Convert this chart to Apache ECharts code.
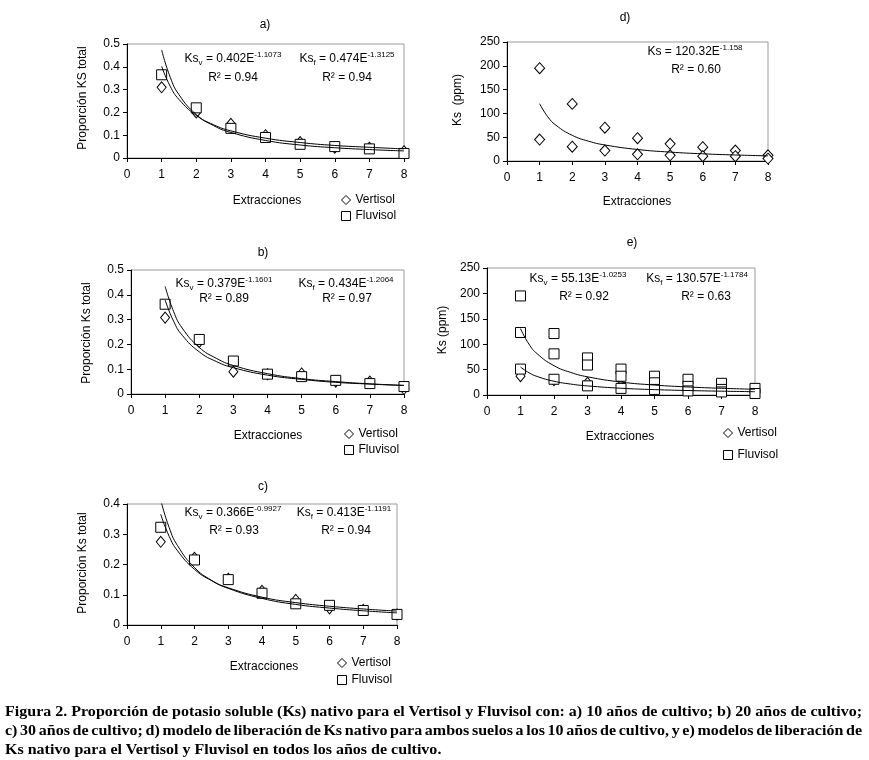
<!DOCTYPE html>
<html><head><meta charset="utf-8">
<script src="https://cdn.jsdelivr.net/npm/echarts@6/dist/echarts.min.js"></script>
<style>
html,body{margin:0;padding:0;background:#fff;}
#chart{position:absolute;left:0;top:0;width:869px;height:760px;}
#caption{position:absolute;left:5px;top:702px;width:857px;font-family:"Liberation Serif","DejaVu Serif",serif;font-weight:bold;font-size:15px;line-height:19px;color:#000;}
.ln{white-space:nowrap;transform-origin:0 0;display:block;width:max-content;}
</style></head><body>
<div id="chart"></div>
<div id="caption">
<span class="ln" id="l1">Figura 2. Proporción de potasio soluble (Ks) nativo para el Vertisol y Fluvisol con: a) 10 años de cultivo; b) 20 años de cultivo;</span>
<span class="ln" id="l2">c) 30 años de cultivo; d) modelo de liberación de Ks nativo para ambos suelos a los 10 años de cultivo, y e) modelos de liberación de</span>
<span class="ln" id="l3">Ks nativo para el Vertisol y Fluvisol en todos los años de cultivo.</span>
</div>
<script>
// ---------- data ----------
const extracciones = [1, 2, 3, 4, 5, 6, 7, 8];
const xTickLabels = ['0', '1', '2', '3', '4', '5', '6', '7', '8'];

// a) 10 years
const aVertisol = [0.31, 0.20, 0.15, 0.10, 0.07, 0.045, 0.045, 0.03];
const aFluvisol = [0.365, 0.22, 0.13, 0.09, 0.06, 0.05, 0.04, 0.02];
// b) 20 years
const bVertisol = [0.308, 0.21, 0.09, 0.08, 0.083, 0.05, 0.05, 0.02];
const bFluvisol = [0.362, 0.22, 0.133, 0.08, 0.07, 0.055, 0.042, 0.03];
// c) 30 years
const cVertisol = [0.275, 0.222, 0.153, 0.113, 0.083, 0.055, 0.05, 0.035];
const cFluvisol = [0.323, 0.215, 0.15, 0.105, 0.07, 0.065, 0.048, 0.035];

// trend curves, read at these x positions
const trendX = [1, 1.25, 1.5, 2, 2.5, 3, 4, 5, 6, 7, 8];
const aTrendV = [0.402, 0.314, 0.257, 0.187, 0.146, 0.119, 0.087, 0.068, 0.055, 0.047, 0.040];
const aTrendF = [0.474, 0.354, 0.278, 0.191, 0.142, 0.112, 0.077, 0.057, 0.045, 0.037, 0.031];
const bTrendV = [0.379, 0.293, 0.237, 0.170, 0.131, 0.106, 0.076, 0.059, 0.047, 0.040, 0.034];
const bTrendF = [0.434, 0.332, 0.266, 0.188, 0.144, 0.115, 0.082, 0.062, 0.050, 0.041, 0.035];
const cTrendV = [0.366, 0.293, 0.245, 0.184, 0.147, 0.123, 0.092, 0.074, 0.062, 0.053, 0.046];
const cTrendF = [0.413, 0.322, 0.262, 0.190, 0.148, 0.121, 0.088, 0.068, 0.056, 0.047, 0.040];

// d) both soils, 10 years (ppm)
const dX = [1, 1, 2, 2, 3, 3, 4, 4, 5, 5, 6, 6, 7, 7, 8, 8];
const dKs = [195, 45, 120, 30, 70, 22, 48, 14, 36, 12, 29, 10, 22, 10, 12, 5];
const dTrend = [120.3, 92.9, 75.2, 53.9, 41.6, 33.7, 24.2, 18.7, 15.1, 12.6, 10.8];

// e) all years (ppm)
const eVertX = [1, 2, 3, 4, 5, 6, 7, 8];
const eVertKs = [37, 29, 24, 19, 14, 10, 9, 5];
const eFluvX = [1, 1, 1, 2, 2, 2, 3, 3, 3, 4, 4, 4, 5, 5, 5, 6, 6, 6, 7, 7, 7, 8, 8];
const eFluvKs = [195, 123, 51, 121, 81, 31, 73, 59, 18, 51, 37, 13, 37, 24, 11, 31, 17, 8, 23, 11, 6, 13, 3];
const eTrendV = [55.1, 43.9, 36.4, 27.1, 21.5, 17.9, 13.3, 10.6, 8.8, 7.5, 6.5];
const eTrendF = [130.6, 100.4, 81.0, 57.7, 44.4, 35.8, 25.5, 19.6, 15.8, 13.2, 11.3];

// ---------- helpers ----------
const FONT = '"Liberation Sans", Arial, sans-serif';
const pairs = (xs, ys) => xs.map((x, i) => [x, ys[i]]);

const grids = [
  {left: 127, top: 44, width: 277, height: 114},   // a
  {left: 131, top: 270, width: 273, height: 124},  // b
  {left: 127, top: 504, width: 270, height: 121},  // c
  {left: 507, top: 42, width: 261, height: 119},   // d
  {left: 487, top: 268, width: 268, height: 127}   // e
].map(g => Object.assign({show: true, borderColor: '#9a9a9a', borderWidth: 1, backgroundColor: 'transparent', containLabel: false}, g));

const yMax = [0.5, 0.5, 0.4, 250, 250];
const yInt = [0.1, 0.1, 0.1, 50, 50];

const axisCommon = {
  axisLine: {show: true, onZero: false, lineStyle: {color: '#000', width: 1}},
  axisTick: {show: true, inside: false, length: 4, lineStyle: {color: '#000', width: 1}},
  splitLine: {show: false},
  axisLabel: {color: '#000', fontSize: 12, fontFamily: FONT}
};

const xAxis = grids.map((g, i) => Object.assign({}, axisCommon, {
  type: 'value', gridIndex: i, min: 0, max: 8, interval: 1,
  axisLabel: Object.assign({}, axisCommon.axisLabel, {margin: 11, formatter: v => xTickLabels[v]})
}));
const yAxis = grids.map((g, i) => Object.assign({}, axisCommon, {
  type: 'value', gridIndex: i, min: 0, max: yMax[i], interval: yInt[i],
  axisLabel: Object.assign({}, axisCommon.axisLabel, {margin: 7})
}));

const markerStyle = {color: '#fff', borderColor: '#000', borderWidth: 1, opacity: 1};
function scatter(name, idx, data, symbol, size) {
  return {type: 'scatter', name, xAxisIndex: idx, yAxisIndex: idx, data, symbol, symbolSize: size,
    itemStyle: markerStyle, z: 2, emphasis: {disabled: true}, silent: true};
}
function trend(idx, ys) {
  return {type: 'line', name: 'trend', xAxisIndex: idx, yAxisIndex: idx, data: pairs(trendX, ys),
    showSymbol: false, symbol: 'none', smooth: true, clip: true,
    lineStyle: {color: '#000', width: 1}, z: 3, silent: true, emphasis: {disabled: true}};
}

const DIA = [9, 11], SQ = 10;
const series = [
  scatter('Vertisol', 0, pairs(extracciones, aVertisol), 'diamond', DIA),
  scatter('Fluvisol', 0, pairs(extracciones, aFluvisol), 'rect', SQ),
  trend(0, aTrendV), trend(0, aTrendF),
  scatter('Vertisol', 1, pairs(extracciones, bVertisol), 'diamond', DIA),
  scatter('Fluvisol', 1, pairs(extracciones, bFluvisol), 'rect', SQ),
  trend(1, bTrendV), trend(1, bTrendF),
  scatter('Vertisol', 2, pairs(extracciones, cVertisol), 'diamond', DIA),
  scatter('Fluvisol', 2, pairs(extracciones, cFluvisol), 'rect', SQ),
  trend(2, cTrendV), trend(2, cTrendF),
  scatter('Ks', 3, pairs(dX, dKs), 'diamond', [10, 11]),
  trend(3, dTrend),
  scatter('Vertisol', 4, pairs(eVertX, eVertKs), 'diamond', DIA),
  scatter('Fluvisol', 4, pairs(eFluvX, eFluvKs), 'rect', SQ),
  trend(4, eTrendV), trend(4, eTrendF)
];

function legend(left, top, gap) {
  return {orient: 'vertical', left, top, itemGap: gap, itemWidth: 9, itemHeight: 9, selectedMode: false,
    textStyle: {fontSize: 12, color: '#000', fontFamily: FONT}, padding: 0,
    data: [
      {name: 'Vertisol', icon: 'diamond', itemStyle: {color: '#fff', borderColor: '#000', borderWidth: 1}},
      {name: 'Fluvisol', icon: 'rect', itemStyle: {color: '#fff', borderColor: '#000', borderWidth: 1}}
    ]};
}

const rich = {
  b: {fontSize: 12, lineHeight: 16, fontFamily: FONT, fill: '#000', color: '#000'},
  sub: {fontSize: 8, lineHeight: 8, fontFamily: FONT, verticalAlign: 'bottom', fill: '#000', color: '#000'},
  sup: {fontSize: 8, lineHeight: 8, fontFamily: FONT, verticalAlign: 'top', fill: '#000', color: '#000'}
};
function txt(x, y, text, opts) {
  return {type: 'text', x, y, rotation: (opts && opts.rot) || 0, silent: true,
    style: {text, fill: '#000', font: '12px ' + FONT, align: 'center', verticalAlign: 'middle',
      textAlign: 'center', textVerticalAlign: 'middle', rich: (opts && opts.rich) ? rich : undefined}};
}
function eq(x, y, a, sub, coef, exp) {
  const t = '{b|' + a + '}' + (sub ? '{sub|' + sub + '}' : '') + '{b| = ' + coef + 'E}{sup|' + exp + '}';
  return txt(x, y, t, {rich: true});
}
const R = Math.PI / 2;
const graphic = [
  // titles
  txt(265, 25, 'a)'), txt(263, 253, 'b)'), txt(263, 487, 'c)'), txt(625, 18, 'd)'), txt(632, 243, 'e)'),
  // x axis names
  txt(267, 201, 'Extracciones'), txt(268, 436, 'Extracciones'), txt(264, 667, 'Extracciones'),
  txt(637, 202, 'Extracciones'), txt(620, 437, 'Extracciones'),
  // y axis names
  txt(83, 98, 'Proporción KS total', {rot: R}), txt(87, 333, 'Proporción Ks total', {rot: R}),
  txt(83, 563, 'Proporción Ks total', {rot: R}), txt(458, 100, 'Ks  (ppm)', {rot: R}),
  txt(443, 330, 'Ks (ppm)', {rot: R}),
  // equations
  eq(233, 59, 'Ks', 'v', '0.402', '-1.1073'), txt(233, 78, 'R² = 0.94'),
  eq(347, 59, 'Ks', 'f', '0.474', '-1.3125'), txt(347, 78, 'R² = 0.94'),
  eq(224, 284, 'Ks', 'v', '0.379', '-1.1601'), txt(224, 299, 'R² = 0.89'),
  eq(346, 284, 'Ks', 'f', '0.434', '-1.2064'), txt(347, 299, 'R² = 0.97'),
  eq(233, 513, 'Ks', 'v', '0.366', '-0.9927'), txt(234, 531, 'R² = 0.93'),
  eq(344, 513, 'Ks', 'f', '0.413', '-1.1191'), txt(346, 531, 'R² = 0.94'),
  eq(695, 52, 'Ks', '', '120.32', '-1.158'), txt(696, 70, 'R² = 0.60'),
  eq(578, 279, 'Ks', 'v', '55.13', '-1.0253'), txt(584, 297, 'R² = 0.92'),
  eq(697, 279, 'Ks', 'f', '130.57', '-1.1784'), txt(706, 297, 'R² = 0.63')
];

const chart = echarts.init(document.getElementById('chart'), null, {renderer: 'canvas'});
chart.setOption({
  animation: false,
  backgroundColor: '#fff',
  textStyle: {fontFamily: FONT},
  grid: grids, xAxis, yAxis, series,
  legend: [legend(341, 194, 4), legend(344, 428, 4), legend(337, 657, 5), legend(723, 427, 10)],
  graphic
});

// caption fitting (justified look, condensed)
(function () {
  const W = 857;
  const l1 = document.getElementById('l1'), l2 = document.getElementById('l2'), l3 = document.getElementById('l3');
  const w1 = l1.getBoundingClientRect().width;
  const s = W / w1;
  const w2 = l2.getBoundingClientRect().width;
  const spaces = (l2.textContent.match(/ /g) || []).length;
  l2.style.wordSpacing = ((W / s - w2) / spaces) + 'px';
  [l1, l2, l3].forEach(l => l.style.transform = 'scaleX(' + s + ')');
})();
</script>
</body></html>
